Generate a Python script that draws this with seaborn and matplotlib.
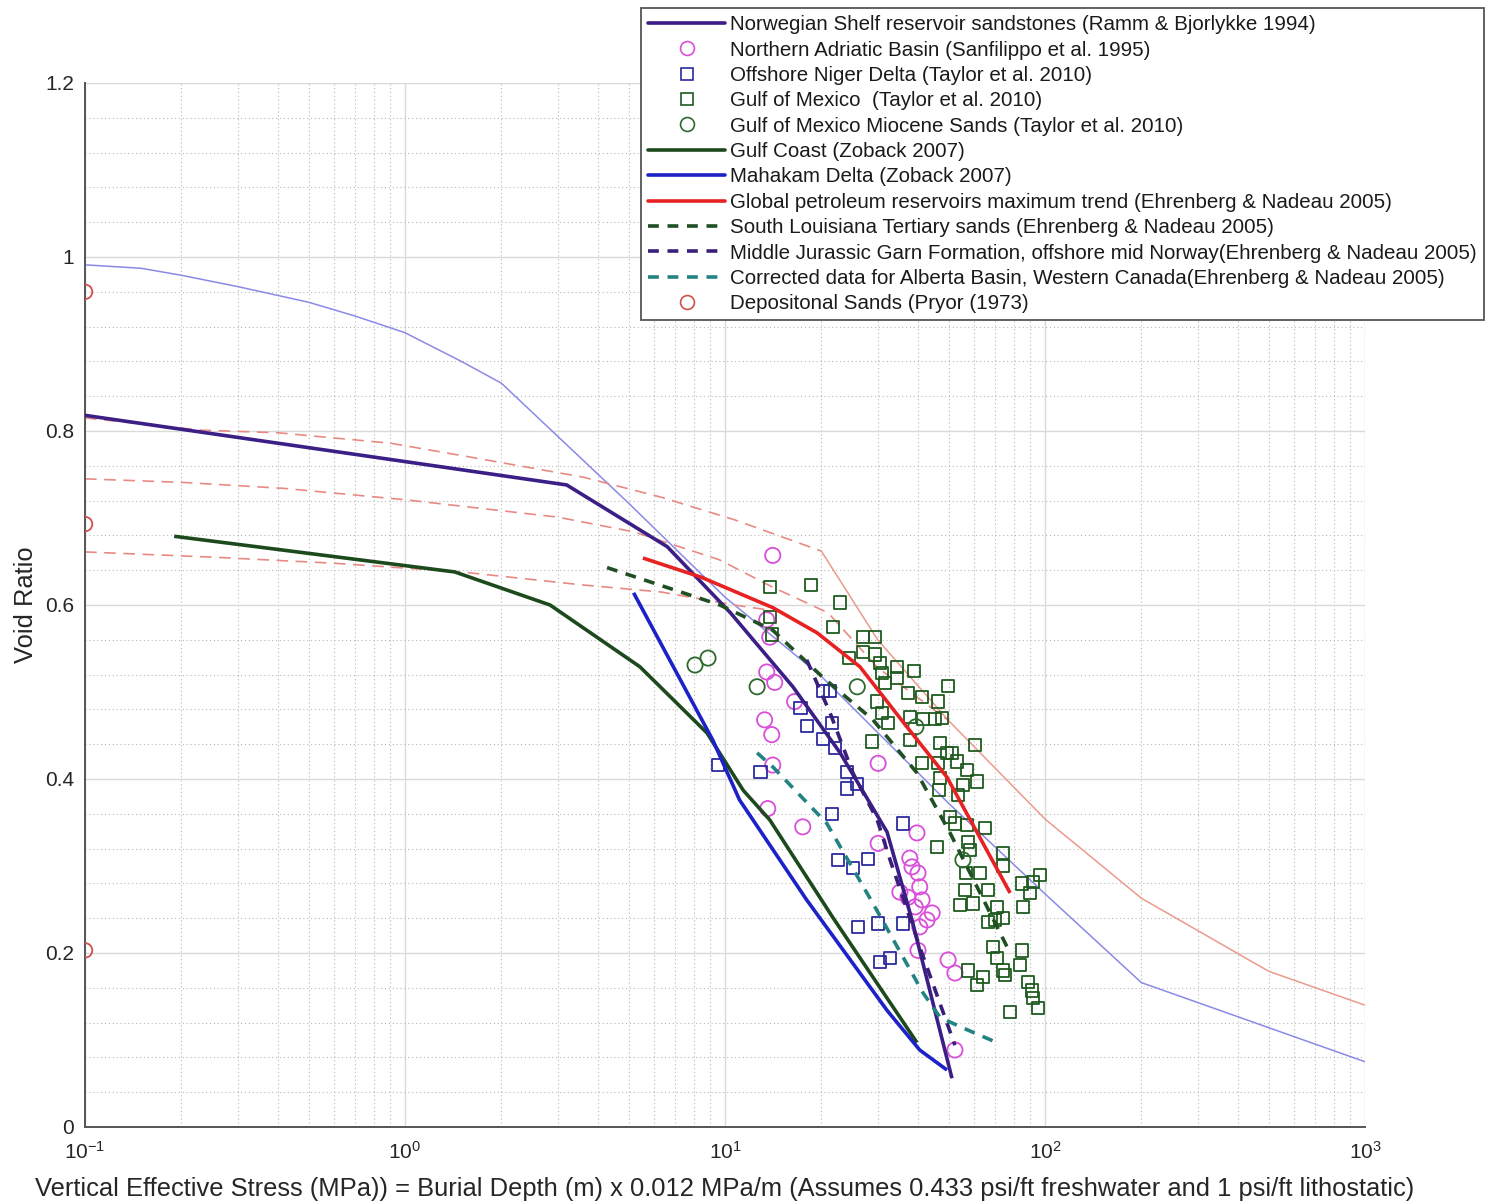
import numpy as np
import pandas as pd
import matplotlib
matplotlib.use("Agg")
import matplotlib.pyplot as plt
from matplotlib.lines import Line2D
from matplotlib.ticker import LogLocator, MultipleLocator, FuncFormatter, NullFormatter
import seaborn as sns

# ---------------------------------------------------------------- data
# Reference compaction envelopes (not in legend)
envelope_blue_x = [0.1, 0.15, 0.2, 0.3, 0.5, 0.7, 1.0, 1.5, 2.0, 5.0, 10, 20, 50, 100, 200, 1000]
envelope_blue_y = [0.991, 0.987, 0.979, 0.966, 0.948, 0.932, 0.913, 0.880, 0.855, 0.717,
                   0.609, 0.518, 0.372, 0.268, 0.166, 0.075]

envelope_red_x = [20, 30, 50, 100, 200, 500, 1000]
envelope_red_y = [0.662, 0.560, 0.467, 0.354, 0.263, 0.179, 0.140]

dash_top_x = [0.1, 0.23, 0.4, 0.9, 1.6, 3.6, 6.3, 10.7, 20]
dash_top_y = [0.815, 0.801, 0.798, 0.786, 0.770, 0.747, 0.724, 0.698, 0.662]

dash_mid_x = [0.1, 0.2, 0.42, 1.0, 3.0, 5.2, 9.6, 14, 21, 30, 50]
dash_mid_y = [0.745, 0.741, 0.734, 0.721, 0.701, 0.684, 0.652, 0.621, 0.591, 0.528, 0.467]

dash_low_x = [0.1, 0.25, 0.6, 1.5, 3.6, 6.3, 10.7, 13.8]
dash_low_y = [0.661, 0.655, 0.648, 0.638, 0.623, 0.615, 0.600, 0.594]

# Published trends
norway_x = [0.1, 3.2, 6.6, 10.4, 16.3, 22.9, 32.1, 38.4, 51.2]
norway_y = [0.818, 0.738, 0.667, 0.591, 0.506, 0.430, 0.339, 0.238, 0.056]

gulf_coast_x = [0.19, 1.43, 2.84, 5.42, 8.78, 11.4, 13.8, 21.8, 39.8]
gulf_coast_y = [0.679, 0.638, 0.600, 0.529, 0.453, 0.387, 0.353, 0.240, 0.097]

mahakam_x = [5.18, 9.15, 11.1, 18.0, 32.1, 40.6, 49.4]
mahakam_y = [0.614, 0.445, 0.376, 0.261, 0.134, 0.0885, 0.0655]

global_max_x = [5.54, 8.42, 14.1, 19.4, 26.4, 37.0, 49.4, 77.8]
global_max_y = [0.654, 0.632, 0.597, 0.568, 0.529, 0.460, 0.402, 0.269]

louisiana_x = [4.28, 9.64, 14.1, 20.2, 29.0, 39.8, 50.5, 76.6]
louisiana_y = [0.643, 0.600, 0.571, 0.517, 0.468, 0.407, 0.338, 0.205]

garn_x = [18.0, 21.3, 25.1, 29.9, 32.8, 40.6, 52.3]
garn_y = [0.537, 0.476, 0.407, 0.353, 0.307, 0.207, 0.094]

alberta_x = [12.6, 14.1, 20.8, 29.0, 41.6, 47.0, 54.5, 70.8]
alberta_y = [0.430, 0.414, 0.349, 0.257, 0.154, 0.126, 0.115, 0.097]

# Measured samples
adriatic_x = [14.1, 13.5, 13.8, 13.5, 14.3, 16.5, 13.3, 14.0, 14.1, 30.1, 13.6, 17.5, 30.1,
              39.8, 37.8, 38.4, 40.1, 40.6, 35.2, 37.3, 41.3, 39.3, 44.4, 42.8, 40.6, 40.1,
              49.8, 52.3, 52.3]
adriatic_y = [0.657, 0.583, 0.563, 0.523, 0.511, 0.489, 0.468, 0.451, 0.416, 0.418, 0.366, 0.345,
              0.326, 0.338, 0.309, 0.299, 0.292, 0.276, 0.270, 0.264, 0.261, 0.253, 0.246, 0.238,
              0.230, 0.203, 0.192, 0.177, 0.0885]

niger_x = [9.51, 12.9, 17.2, 18.0, 20.2, 21.3, 21.6, 20.2, 22.1, 24.0, 25.9, 24.0, 21.6, 22.5,
           25.1, 28.0, 36.0, 26.1, 30.1, 36.0, 30.5, 32.8]
niger_y = [0.416, 0.408, 0.482, 0.461, 0.501, 0.501, 0.464, 0.446, 0.436, 0.408, 0.394, 0.389,
           0.360, 0.307, 0.298, 0.308, 0.349, 0.230, 0.234, 0.234, 0.190, 0.194]

gom_x = [13.8, 18.6, 22.9, 21.8, 13.8, 14.0, 27.0, 29.4, 27.0, 29.4, 24.4, 30.5, 34.5, 39.0,
         31.0, 34.5, 49.8, 31.6, 37.3, 41.3, 46.3, 29.9, 31.0, 37.9, 41.6, 45.3, 47.7, 32.3,
         28.8, 37.9, 47.0, 60.4, 49.4, 51.2, 41.3, 46.3, 53.1, 57.1, 61.3, 47.0, 55.4, 53.5,
         46.6, 50.5, 52.3, 57.1, 64.9, 46.0, 57.5, 58.3, 73.9, 73.9, 56.6, 62.6, 66.3, 56.2,
         54.2, 59.6, 84.8, 91.7, 96.4, 89.8, 85.4, 70.8, 69.8, 73.9, 66.3, 68.8, 84.8, 70.8,
         83.5, 73.9, 75.0, 57.5, 64.0, 61.3, 88.5, 91.1, 91.7, 95.1, 77.7]
gom_y = [0.621, 0.623, 0.603, 0.575, 0.586, 0.566, 0.563, 0.563, 0.546, 0.543, 0.539, 0.533,
         0.529, 0.524, 0.522, 0.516, 0.507, 0.510, 0.499, 0.494, 0.489, 0.489, 0.476, 0.471,
         0.469, 0.469, 0.470, 0.464, 0.443, 0.445, 0.441, 0.439, 0.430, 0.430, 0.418, 0.418,
         0.420, 0.410, 0.397, 0.401, 0.393, 0.382, 0.387, 0.356, 0.349, 0.347, 0.344, 0.322,
         0.328, 0.318, 0.315, 0.300, 0.292, 0.292, 0.272, 0.272, 0.255, 0.257, 0.280, 0.282,
         0.290, 0.269, 0.253, 0.253, 0.238, 0.240, 0.236, 0.207, 0.203, 0.194, 0.186, 0.180,
         0.175, 0.180, 0.172, 0.163, 0.167, 0.157, 0.148, 0.137, 0.132]

miocene_x = [8.06, 8.85, 12.6, 25.9, 39.5, 55.4]
miocene_y = [0.531, 0.539, 0.506, 0.506, 0.460, 0.307]

pryor_x = [0.1, 0.1, 0.1]
pryor_y = [0.960, 0.693, 0.203]

x_ticks = [0.1, 1, 10, 100, 1000]
y_ticks = [0, 0.2, 0.4, 0.6, 0.8, 1.0, 1.2]

# ---------------------------------------------------------------- colours
C_NORWAY = "#3b1f86"
C_ADRIATIC = "#d94fd9"
C_NIGER = "#2b2b9e"
C_GOM = "#1f5a1f"
C_MIOCENE = "#2e6a2e"
C_GULF = "#1d4a1d"
C_MAHAKAM = "#1c22c8"
C_GLOBAL = "#e62222"
C_LOUIS = "#1f4f22"
C_GARN = "#3a1f7a"
C_ALBERTA = "#238383"
C_PRYOR = "#d0504a"
C_ENV_BLUE = "#8a8ae6"
C_ENV_RED = "#eb9a8c"
C_DASH_RED = "#e88a84"

sns.set_theme(style="white")
plt.rcParams["font.family"] = ["Liberation Sans", "DejaVu Sans"]
plt.rcParams["mathtext.fontset"] = "custom"
plt.rcParams["mathtext.rm"] = "Liberation Sans"

fig = plt.figure(figsize=(14.88, 12.04), dpi=100)
ax = fig.add_axes([85 / 1488, 77 / 1204, 1280 / 1488, 1044 / 1204])
ax.set_xscale("log")


def draw_line(x, y, color, lw, dashes=None, z=4):
    df = pd.DataFrame({"x": x, "y": y})
    sns.lineplot(data=df, x="x", y="y", sort=False, estimator=None, ax=ax, legend=False,
                 color=color, linewidth=lw, zorder=z)
    line = ax.lines[-1]
    if dashes is not None:
        line.set_dashes(dashes)
    line.set_solid_capstyle("butt")
    line.set_solid_joinstyle("round")
    return line


def draw_points(x, y, color, marker, size, lw=1.3, z=3):
    df = pd.DataFrame({"x": x, "y": y})
    sns.scatterplot(data=df, x="x", y="y", marker=marker, s=size, facecolor="none",
                    edgecolor=color, linewidth=lw, ax=ax, legend=False, zorder=z)


# envelopes
draw_line(envelope_blue_x, envelope_blue_y, C_ENV_BLUE, 1.1, z=2)
draw_line(envelope_red_x, envelope_red_y, C_ENV_RED, 1.1, z=2)
draw_line(dash_top_x, dash_top_y, C_DASH_RED, 1.2, dashes=(7, 4.5), z=2)
draw_line(dash_mid_x, dash_mid_y, C_DASH_RED, 1.2, dashes=(7, 4.5), z=2)
draw_line(dash_low_x, dash_low_y, C_DASH_RED, 1.2, dashes=(7, 4.5), z=2)

# samples
draw_points(adriatic_x, adriatic_y, C_ADRIATIC, "o", 120)
draw_points(niger_x, niger_y, C_NIGER, "s", 78)
draw_points(gom_x, gom_y, C_GOM, "s", 78)
draw_points(miocene_x, miocene_y, C_MIOCENE, "o", 120)
draw_points(pryor_x, pryor_y, C_PRYOR, "o", 110)

# trends
LW = 2.6
DASH = (3, 2.4)
draw_line(norway_x, norway_y, C_NORWAY, LW)
draw_line(gulf_coast_x, gulf_coast_y, C_GULF, LW)
draw_line(mahakam_x, mahakam_y, C_MAHAKAM, LW)
draw_line(global_max_x, global_max_y, C_GLOBAL, LW)
draw_line(louisiana_x, louisiana_y, C_LOUIS, LW, dashes=DASH)
draw_line(garn_x, garn_y, C_GARN, LW, dashes=DASH)
draw_line(alberta_x, alberta_y, C_ALBERTA, LW, dashes=DASH)

# ---------------------------------------------------------------- axes styling
ax.set_xlim(0.1, 1000)
ax.set_ylim(0, 1.2)
ax.set_xticks(x_ticks)
ax.xaxis.set_minor_locator(LogLocator(base=10, subs=np.arange(2, 10)))
ax.xaxis.set_minor_formatter(NullFormatter())
ax.set_yticks(y_ticks)
ax.yaxis.set_minor_locator(MultipleLocator(0.04))
ax.yaxis.set_major_formatter(FuncFormatter(lambda v, p: f"{v:g}"))

ax.grid(which="major", color="#dadada", linewidth=1.0, linestyle="-")
ax.grid(which="minor", color="#b8b8b8", linewidth=0.8, linestyle=(0, (1, 2.5)))
ax.set_axisbelow(True)

for side in ("top", "right"):
    ax.spines[side].set_visible(False)
for side in ("left", "bottom"):
    ax.spines[side].set_color("#555555")
    ax.spines[side].set_linewidth(1.4)

ax.tick_params(axis="both", which="major", direction="in", length=8, width=1.0,
               color="#555555", labelsize=15, labelcolor="#262626")
ax.tick_params(axis="x", which="major", pad=10)
ax.tick_params(axis="y", which="major", pad=8)
ax.tick_params(axis="x", which="minor", direction="in", length=5, width=0.8, color="#555555")
ax.tick_params(axis="y", which="minor", length=0)

ax.set_xlabel("Vertical Effective Stress (MPa)) = Burial Depth (m) x 0.012 MPa/m "
              "(Assumes 0.433 psi/ft freshwater and 1 psi/ft lithostatic)",
              fontsize=18.4, color="#262626")
ax.set_ylabel("Void Ratio", fontsize=18.4, color="#262626")
ax.xaxis.set_label_coords(0.5, -0.048)
ax.yaxis.set_label_coords(-0.037, 0.5)

# ---------------------------------------------------------------- legend
def line_h(color, dashed=False):
    h = Line2D([], [], color=color, linewidth=LW)
    if dashed:
        h.set_dashes(DASH)
    return h


def mark_h(color, marker, ms):
    return Line2D([], [], linestyle="none", marker=marker, markersize=ms,
                  markerfacecolor="none", markeredgecolor=color, markeredgewidth=1.2)


handles = [
    line_h(C_NORWAY),
    mark_h(C_ADRIATIC, "o", 10),
    mark_h(C_NIGER, "s", 8),
    mark_h(C_GOM, "s", 8),
    mark_h(C_MIOCENE, "o", 10),
    line_h(C_GULF),
    line_h(C_MAHAKAM),
    line_h(C_GLOBAL),
    line_h(C_LOUIS, True),
    line_h(C_GARN, True),
    line_h(C_ALBERTA, True),
    mark_h(C_PRYOR, "o", 10),
]
labels = [
    "Norwegian Shelf reservoir sandstones (Ramm & Bjorlykke 1994)",
    "Northern Adriatic Basin (Sanfilippo et al. 1995)",
    "Offshore Niger Delta (Taylor et al. 2010)",
    "Gulf of Mexico  (Taylor et al. 2010)",
    "Gulf of Mexico Miocene Sands (Taylor et al. 2010)",
    "Gulf Coast (Zoback 2007)",
    "Mahakam Delta (Zoback 2007)",
    "Global petroleum reservoirs maximum trend (Ehrenberg & Nadeau 2005)",
    "South Louisiana Tertiary sands (Ehrenberg & Nadeau 2005)",
    "Middle Jurassic Garn Formation, offshore mid Norway(Ehrenberg & Nadeau 2005)",
    "Corrected data for Alberta Basin, Western Canada(Ehrenberg & Nadeau 2005)",
    "Depositonal Sands (Pryor (1973)",
]
leg = fig.legend(handles, labels, loc="upper left",
                 bbox_to_anchor=(641 / 1488, 1 - 8 / 1204), bbox_transform=fig.transFigure,
                 frameon=True, fancybox=False, framealpha=1, edgecolor="#555555",
                 fontsize=14.8, handlelength=3.75, handletextpad=0.25, labelspacing=0.31,
                 borderpad=0.35, borderaxespad=0, numpoints=1)
leg.get_frame().set_linewidth(1.3)
for t in leg.get_texts():
    t.set_color("#1a1a1a")

fig.savefig("out.png", dpi=100, facecolor="white")
